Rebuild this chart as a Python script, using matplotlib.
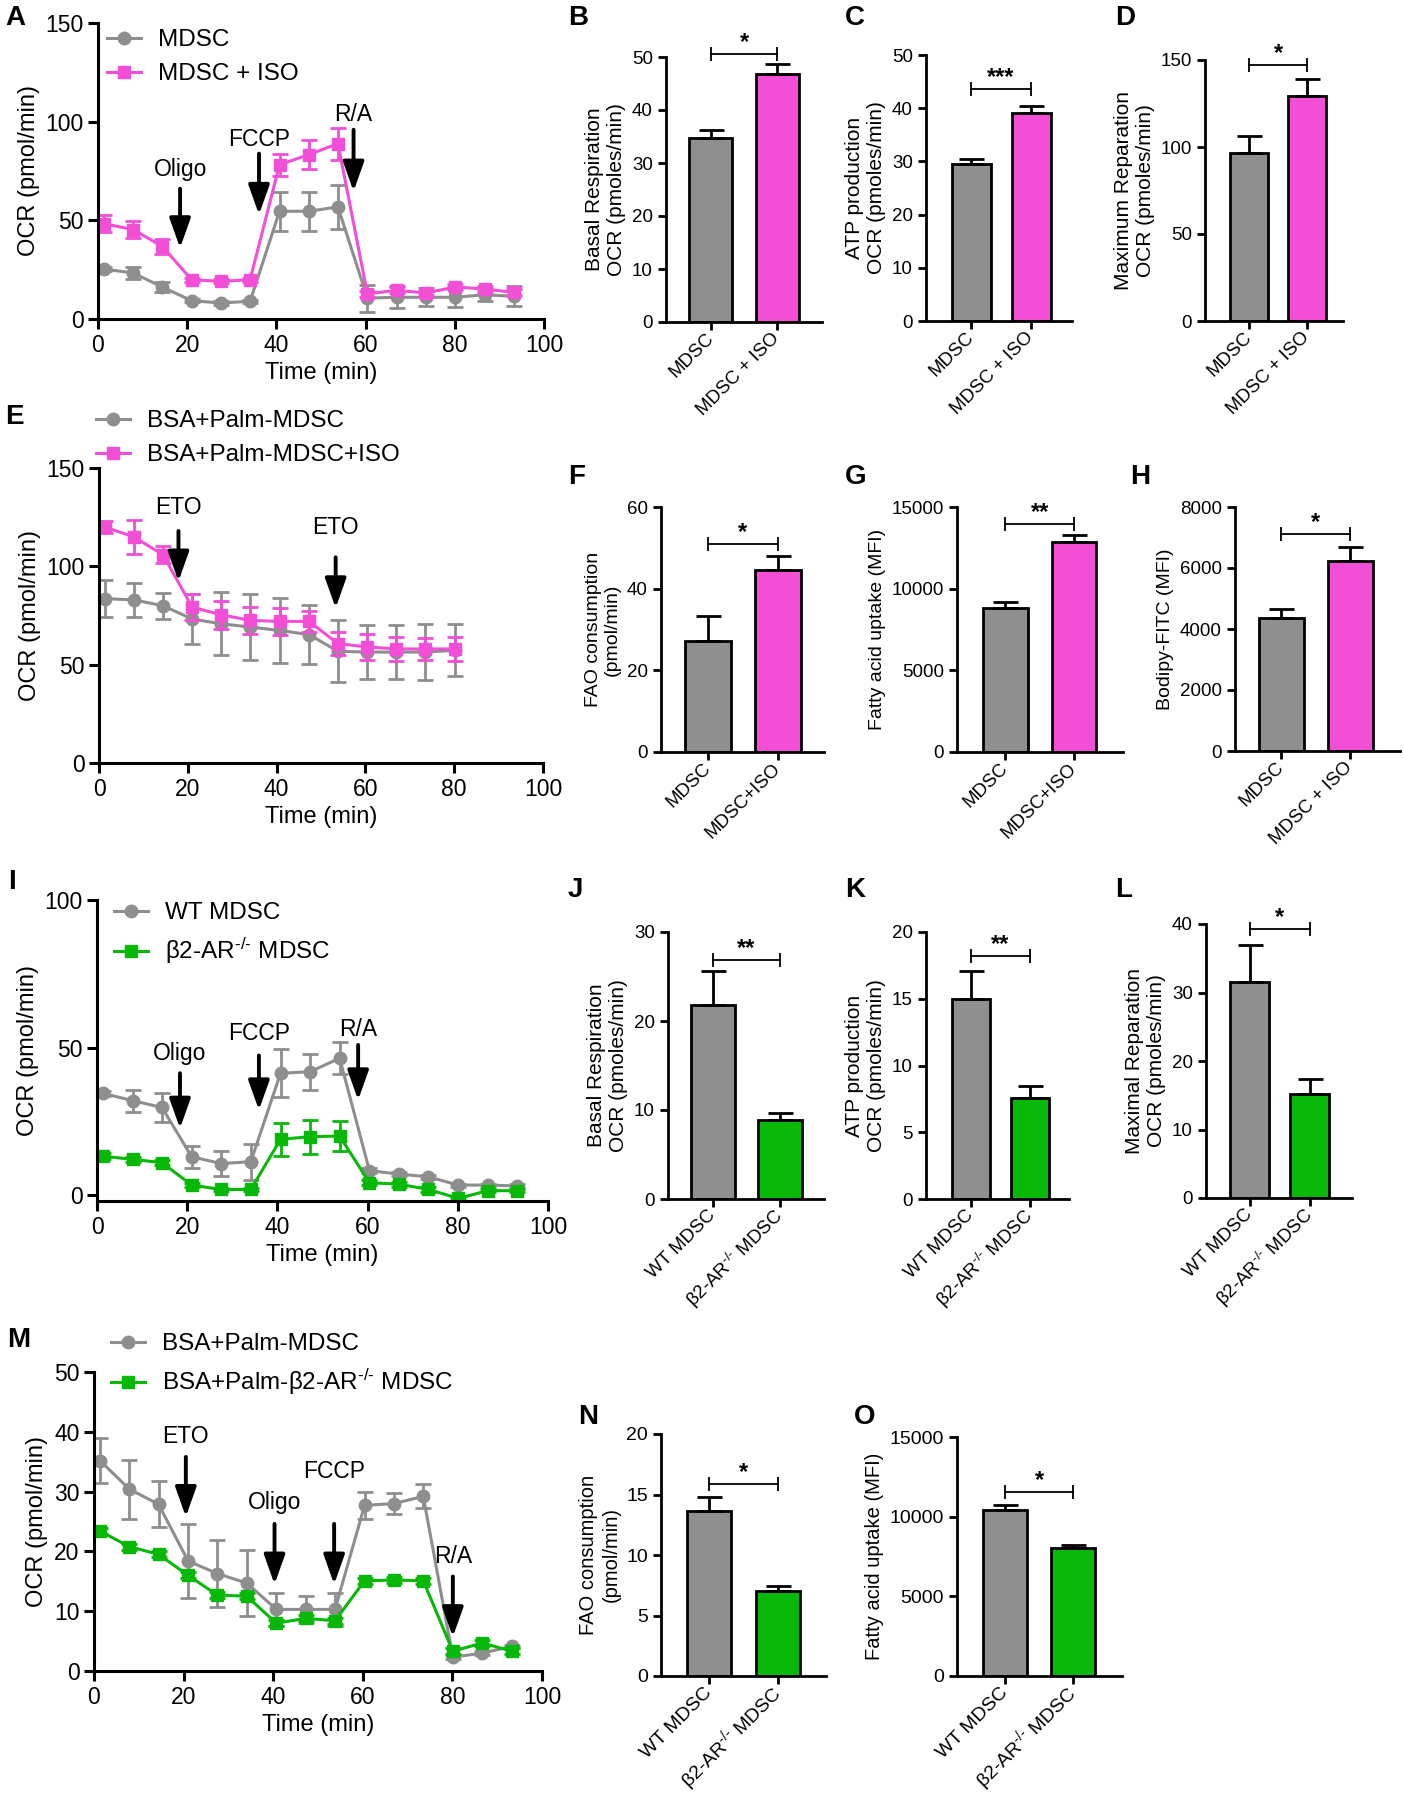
import matplotlib
matplotlib.use("Agg")
import matplotlib.pyplot as plt

plt.rcParams['font.family'] = ['Liberation Sans', 'DejaVu Sans']
plt.rcParams['mathtext.fontset'] = 'custom'
plt.rcParams['mathtext.rm'] = 'Liberation Sans'
plt.rcParams['mathtext.it'] = 'Liberation Sans:italic'
plt.rcParams['mathtext.bf'] = 'Liberation Sans:bold'

W, H = 1404, 1800
GRAY = '#8E8E8E'
PINK = '#F24ED6'
GREEN = '#08B808'
BAR_GRAY = '#8F8F8F'

# ---- time course data (Seahorse measurement times, min) ----
t15 = [1.3, 7.9, 14.4, 21.0, 27.5, 34.1, 40.7, 47.3, 53.8, 60.4, 67.0, 73.5, 80.1, 86.7, 93.2]
t13 = [1.3, 7.9, 14.4, 21.0, 27.5, 34.1, 40.7, 47.3, 53.8, 60.4, 67.0, 73.5, 80.1]

a_mdsc = [25.3, 23.3, 16.2, 9.3, 8.1, 9.0, 54.6, 54.6, 56.8, 10.6, 11.0, 11.0, 11.0, 12.3, 11.5]
a_mdsc_err = [1.0, 2.9, 2.5, 0.8, 0.8, 0.8, 10.0, 9.8, 11.0, 6.8, 5.6, 4.6, 5.0, 3.0, 5.0]
a_iso = [48.3, 45.3, 36.8, 19.9, 19.1, 19.9, 78.2, 83.3, 88.9, 12.8, 14.5, 13.2, 16.2, 15.2, 13.5]
a_iso_err = [4.2, 4.2, 3.7, 1.0, 1.0, 1.0, 5.6, 7.3, 8.1, 1.5, 1.5, 1.0, 1.5, 1.5, 1.5]

e_mdsc = [83.6, 82.9, 80.0, 73.2, 70.8, 69.1, 67.4, 65.3, 56.8, 56.4, 56.4, 56.4, 57.3]
e_mdsc_err = [9.3, 8.8, 6.6, 12.7, 16.0, 16.6, 16.3, 15.0, 15.8, 13.6, 13.6, 14.2, 13.2]
e_iso = [120.0, 114.9, 105.9, 79.2, 75.4, 72.5, 72.0, 72.0, 60.7, 59.0, 58.0, 58.0, 58.0]
e_iso_err = [3.0, 8.8, 4.2, 6.5, 7.2, 7.0, 7.0, 5.5, 5.8, 6.5, 6.0, 5.4, 6.0]

i_wt = [34.5, 32.0, 29.7, 13.0, 10.7, 11.3, 41.3, 41.8, 46.4, 8.3, 7.1, 6.2, 3.4, 3.4, 3.1]
i_wt_err = [0.8, 3.7, 4.9, 3.7, 4.3, 6.1, 8.1, 6.1, 5.4, 0.8, 0.6, 0.6, 0.5, 0.5, 0.5]
i_ko = [13.2, 12.1, 11.0, 3.4, 1.9, 1.9, 18.9, 19.8, 20.0, 4.2, 3.7, 1.9, -1.1, 1.5, 1.5]
i_ko_err = [1.0, 0.8, 0.8, 0.8, 0.5, 0.5, 5.7, 5.8, 5.2, 0.8, 0.8, 0.8, 0.5, 0.5, 0.5]

m_wt = [35.2, 30.4, 27.9, 18.4, 16.3, 14.7, 10.3, 10.3, 10.3, 27.7, 28.0, 29.2, 2.3, 3.0, 4.1]
m_wt_err = [3.8, 4.9, 3.8, 6.2, 5.6, 5.5, 2.8, 2.3, 2.8, 2.2, 1.8, 2.0, 0.3, 0.3, 0.3]
m_ko = [23.4, 20.8, 19.5, 16.0, 12.7, 12.5, 8.0, 8.8, 8.4, 15.1, 15.2, 15.1, 3.3, 4.7, 3.3]
m_ko_err = [0.5, 0.5, 0.5, 0.5, 0.5, 0.5, 0.5, 0.5, 0.5, 0.5, 0.5, 0.5, 0.5, 0.5, 0.5]

# ---- bar data: [control, treated], SEM ----
b_vals, b_err = [34.7, 46.8], [1.6, 1.9]
c_vals, c_err = [29.6, 39.1], [0.9, 1.3]
d_vals, d_err = [96.7, 129.3], [9.6, 10.0]
f_vals, f_err = [27.2, 44.6], [6.2, 3.4]
g_vals, g_err = [8800, 12850], [370, 410]
h_vals, h_err = [4350, 6230], [320, 460]
j_vals, j_err = [21.8, 8.9], [3.8, 0.8]
k_vals, k_err = [14.96, 7.55], [2.12, 0.95]
l_vals, l_err = [31.6, 15.2], [5.3, 2.2]
n_vals, n_err = [13.6, 7.05], [1.16, 0.39]
o_vals, o_err = [10400, 8060], [355, 190]

KO = r'β2-AR$^{\text{-/-}}$ MDSC'
iso_labels = ['MDSC', 'MDSC + ISO']
iso_labels2 = ['MDSC', 'MDSC+ISO']
ko_labels = ['WT MDSC', KO]

fig = plt.figure(figsize=(W / 100, H / 100), dpi=100)


def px_axes(left, right, top, bottom):
    return fig.add_axes([left / W, 1 - bottom / H, (right - left) / W, (bottom - top) / H])


def style(ax, lw=2.0):
    for s in ['top', 'right']:
        ax.spines[s].set_visible(False)
    for s in ['left', 'bottom']:
        ax.spines[s].set_linewidth(lw)
    ax.tick_params(width=lw, length=6, direction='out')


def line_panel(box, t, y1, e1, y2, e2, c2, labels, ylim, yticks, arrows, leg_xy):
    ax = px_axes(*box)
    style(ax, 2.2)
    ax.errorbar(t, y1, yerr=e1, fmt='none', ecolor=GRAY, elinewidth=2, capsize=6, capthick=2)
    ax.plot(t, y1, '-o', color=GRAY, lw=2.2, ms=9, label=labels[0])
    ax.errorbar(t, y2, yerr=e2, fmt='none', ecolor=c2, elinewidth=2, capsize=6, capthick=2)
    ax.plot(t, y2, '-s', color=c2, lw=2.2, ms=9, label=labels[1])
    ax.set_xlim(0, 100)
    ax.set_ylim(*ylim)
    ax.set_xticks([0, 20, 40, 60, 80, 100])
    ax.set_yticks(yticks)
    ax.tick_params(labelsize=16.5, length=7)
    ax.set_xlabel('Time (min)', fontsize=17)
    ax.set_ylabel('OCR (pmol/min)', fontsize=17)
    for name, x, top, tip, ty in arrows:
        ax.annotate('', xy=(x, tip), xytext=(x, top),
                    arrowprops=dict(arrowstyle='-|>,head_width=0.32,head_length=0.9',
                                    lw=2.8, color='k', mutation_scale=20,
                                    shrinkA=0, shrinkB=0))
        ax.text(x, ty, name, ha='center', va='center', fontsize=16.5)
    ax.legend(loc='upper left', bbox_to_anchor=(leg_xy[0] / W, 1 - leg_xy[1] / H),
              bbox_transform=fig.transFigure, frameon=False, fontsize=17.5,
              handlelength=1.4, handletextpad=0.7, labelspacing=0.5,
              borderpad=0, borderaxespad=0)
    return ax


def bar_panel(box, xlim, vals, errs, c2, ytop, yticks, ylabel, xlabels, stars, by,
              fs=13.5, yfs=15):
    ax = px_axes(*box)
    style(ax, 2.0)
    ax.bar([0, 1], vals, width=0.65, color=[BAR_GRAY, c2], edgecolor='k', linewidth=2, zorder=2)
    ax.errorbar([0, 1], vals, yerr=[[0, 0], errs], fmt='none', ecolor='k',
                elinewidth=2, capsize=9, capthick=2, zorder=3)
    ax.set_xlim(*xlim)
    ax.set_ylim(0, ytop)
    ax.set_yticks(yticks)
    ax.set_xticks([0, 1])
    ax.set_xticklabels(xlabels, rotation=45, ha='right', va='center', rotation_mode='anchor')
    ax.tick_params(labelsize=fs)
    ax.tick_params(axis='x', pad=4)
    ax.set_ylabel(ylabel, fontsize=yfs)
    ax.plot([0, 1], [by, by], color='k', lw=1.3, marker='|', ms=10, mew=1.3, clip_on=False)
    ax.text(0.5, by, stars, ha='center', va='bottom', fontsize=17, fontweight='bold')
    return ax


line_panel((98, 544, 23, 319), t15, a_mdsc, a_mdsc_err, a_iso, a_iso_err, PINK,
           ['MDSC', 'MDSC + ISO'], (0, 150), [0, 50, 100, 150],
           [('Oligo', 18.4, 66, 36, 76), ('FCCP', 36.1, 83.8, 52.9, 91.2),
            ('R/A', 57.3, 95.9, 64.7, 103.5)], (107, 29))
line_panel((99, 543, 468, 763), t13, e_mdsc, e_mdsc_err, e_iso, e_iso_err, PINK,
           ['BSA+Palm-MDSC', 'BSA+Palm-MDSC+ISO'], (0, 150), [0, 50, 100, 150],
           [('ETO', 17.9, 118, 92.4, 130), ('ETO', 53.3, 104.6, 78.8, 120)], (96, 410))
line_panel((97, 548, 900, 1201), t15, i_wt, i_wt_err, i_ko, i_ko_err, GREEN,
           ['WT MDSC', KO], (-2, 100), [0, 50, 100],
           [('Oligo', 18.4, 41.3, 22.6, 48), ('FCCP', 35.9, 47.3, 28.8, 54.9),
            ('R/A', 57.9, 50.9, 32.2, 56)], (114, 902))
line_panel((94, 542, 1372, 1671), t15, m_wt, m_wt_err, m_ko, m_ko_err, GREEN,
           ['BSA+Palm-MDSC', r'BSA+Palm-β2-AR$^{\text{-/-}}$ MDSC'], (0, 50), [0, 10, 20, 30, 40, 50],
           [('ETO', 20.5, 35.8, 25.8, 39.2), ('Oligo', 40.3, 24.6, 14.5, 28.1),
            ('FCCP', 53.6, 24.6, 14.5, 33.3), ('R/A', 80.1, 15.8, 5.7, 19.1)], (111, 1333))

bar_panel((666, 822, 57, 322), (-0.68, 1.68), b_vals, b_err, PINK, 50, range(0, 51, 10),
          'Basal Respiration\nOCR (pmoles/min)', iso_labels, '*', 50.6)
bar_panel((926, 1072, 55, 321), (-0.75, 1.68), c_vals, c_err, PINK, 50, range(0, 51, 10),
          'ATP production\nOCR (pmoles/min)', iso_labels, '***', 43.7)
bar_panel((1205, 1343, 60, 321), (-0.76, 1.62), d_vals, d_err, PINK, 150, [0, 50, 100, 150],
          'Maximum Reparation\nOCR (pmoles/min)', iso_labels, '*', 147)
bar_panel((661, 824, 507, 752), (-0.67, 1.66), f_vals, f_err, PINK, 60, [0, 20, 40, 60],
          'FAO consumption\n(pmol/min)', iso_labels2, '*', 50.9, yfs=14)
bar_panel((957, 1123, 507, 752), (-0.70, 1.71), g_vals, g_err, PINK, 15000, [0, 5000, 10000, 15000],
          'Fatty acid uptake (MFI)', iso_labels2, '**', 13939, yfs=14)
bar_panel((1235, 1400, 507, 751), (-0.67, 1.72), h_vals, h_err, PINK, 8000, range(0, 8001, 2000),
          'Bodipy-FITC (MFI)', iso_labels, '*', 7126, yfs=14)
bar_panel((668, 824, 932, 1199), (-0.67, 1.66), j_vals, j_err, GREEN, 30, [0, 10, 20, 30],
          'Basal Respiration\nOCR (pmoles/min)', ko_labels, '**', 26.9)
bar_panel((926, 1069, 932, 1199), (-0.76, 1.66), k_vals, k_err, GREEN, 20, [0, 5, 10, 15, 20],
          'ATP production\nOCR (pmoles/min)', ko_labels, '**', 18.2)
bar_panel((1206, 1352, 924, 1198), (-0.73, 1.70), l_vals, l_err, GREEN, 40, [0, 10, 20, 30, 40],
          'Maximal Reparation\nOCR (pmoles/min)', ko_labels, '*', 39.3)
bar_panel((661, 826, 1434, 1676), (-0.70, 1.70), n_vals, n_err, GREEN, 20, [0, 5, 10, 15, 20],
          'FAO consumption\n(pmol/min)', ko_labels, '*', 15.9, fs=14, yfs=14.5)
bar_panel((957, 1122, 1437, 1676), (-0.71, 1.72), o_vals, o_err, GREEN, 15000, [0, 5000, 10000, 15000],
          'Fatty acid uptake (MFI)', ko_labels, '*', 11553, fs=14, yfs=14.5)

panel_letters = [('A', 5, 18), ('B', 568, 18), ('C', 845, 18), ('D', 1115, 18),
                 ('E', 5, 417), ('F', 568, 477), ('G', 845, 477), ('H', 1130, 477),
                 ('I', 8, 882), ('J', 568, 890), ('K', 845, 890), ('L', 1115, 890),
                 ('M', 7, 1340), ('N', 578, 1417), ('O', 854, 1417)]
for letter, x, y in panel_letters:
    fig.text(x / W, 1 - y / H, letter, fontsize=20, fontweight='bold', ha='left', va='center')

fig.savefig('out.png', dpi=100)
